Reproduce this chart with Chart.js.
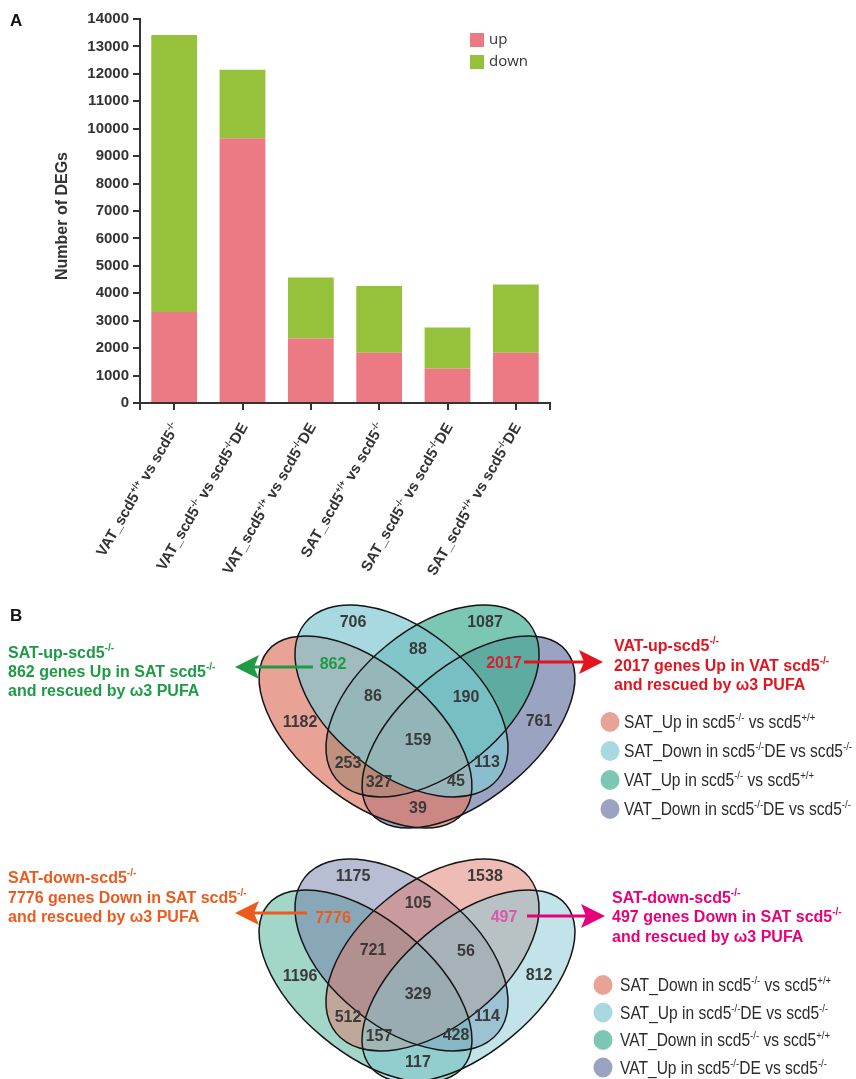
<!DOCTYPE html>
<html>
<head>
<meta charset="utf-8">
<script src="https://cdn.jsdelivr.net/npm/chart.js@4.4.1/dist/chart.umd.min.js"></script>
<style>
  body { margin: 0; background: #fff; width: 856px; height: 1079px; position: relative; overflow: hidden; }
  canvas { position: absolute; left: 0; }
</style>
</head>
<body>
<canvas id="degChart" width="856" height="590" style="top:0"></canvas>
<canvas id="vennUp" width="856" height="255" style="top:590px"></canvas>
<canvas id="vennDown" width="856" height="234" style="top:845px"></canvas>
<script>
"use strict";

// -----------------------------
// data: panel A (stacked bars)
// -----------------------------
const categories = [
  "VAT_scd5^{+/+} vs scd5^{-/-}",
  "VAT_scd5^{-/-} vs scd5^{-/-}DE",
  "VAT_scd5^{+/+} vs scd5^{-/-}DE",
  "SAT_scd5^{+/+} vs scd5^{-/-}",
  "SAT_scd5^{-/-} vs scd5^{-/-}DE",
  "SAT_scd5^{+/+} vs scd5^{-/-}DE",
];
const upCounts = [3320, 9650, 2350, 1830, 1260, 1830];
const downCounts = [10100, 2500, 2230, 2440, 1490, 2490];
const yMax = 14000;
const yStep = 1000;

// -----------------------------
// data: panel B (two 4-set venns)
// region order: A, B, C, D, AB, CD, BC, AC, BD, AD, ABC, BCD, ACD, ABD, ABCD
// -----------------------------
const vennUpSets = [
  "SAT_Up in scd5^{-/-} vs scd5^{+/+}",
  "SAT_Down in scd5^{-/-}DE vs scd5^{-/-}",
  "VAT_Up in scd5^{-/-} vs scd5^{+/+}",
  "VAT_Down in scd5^{-/-}DE vs scd5^{-/-}",
];
const vennUpCounts = [1182, 706, 1087, 761, 862, 2017, 88, 253, 113, 39, 86, 190, 327, 45, 159];

const vennDownSets = [
  "SAT_Down in scd5^{-/-} vs scd5^{+/+}",
  "SAT_Up in scd5^{-/-}DE vs scd5^{-/-}",
  "VAT_Down in scd5^{-/-} vs scd5^{+/+}",
  "VAT_Up in scd5^{-/-}DE vs scd5^{-/-}",
];
const vennDownCounts = [1196, 1175, 1538, 812, 7776, 497, 105, 512, 114, 117, 721, 56, 157, 428, 329];

// -----------------------------
// look & layout
// -----------------------------
const FONT = "'Liberation Sans', Arial, sans-serif";
const INK = "#333";
const upColor = "#ec7a84";
const downColor = "#95c13b";
const setBase = {
  salmon: [222, 122, 105],
  sky: [131, 199, 211],
  teal: [68, 174, 148],
  slate: [112, 124, 168],
};
const legendAlpha = 0.7;

// ellipse slots A..D in venn units (1 unit = 1 px), rotation in degrees
const slotShapes = [
  { cx: -51.5, cy: 32, a: 127, b: 66.6, rot: 39.8 },
  { cx: -15.5, cy: 1, a: 124, b: 72, rot: 38.9 },
  { cx: 15.5, cy: 1, a: 124, b: 72, rot: -38.9 },
  { cx: 51.5, cy: 32, a: 127, b: 66.6, rot: -39.8 },
];
const regionSpots = [
  [-117, 23], [-64, -77], [68, -77], [122, 22],
  [-84, -35], [87, -36], [1, -50], [-69, 64], [70, 63], [1, 109],
  [-44, -3], [49, -2], [-38, 83], [39, 82], [1, 41],
];

function rgba(c, a) {
  return `rgba(${c[0]},${c[1]},${c[2]},${a})`;
}

// "abc^{+/+} d" -> segments with superscripts
function parseRich(str) {
  const out = [];
  const re = /\^\{([^}]*)\}/g;
  let last = 0, m;
  while ((m = re.exec(str))) {
    if (m.index > last) out.push({ t: str.slice(last, m.index), sup: false });
    out.push({ t: m[1], sup: true });
    last = re.lastIndex;
  }
  if (last < str.length) out.push({ t: str.slice(last), sup: false });
  return out;
}

function drawRich(ctx, str, x, yMid, size, weight, align, squeeze) {
  const segs = parseRich(str);
  const sx = squeeze || 1;
  const fontFor = (s) => `${weight} ${s.sup ? Math.round(size * 0.62) : size}px ${FONT}`;
  let w = 0;
  segs.forEach((s) => {
    ctx.font = fontFor(s);
    s.w = ctx.measureText(s.t).width;
    w += s.w;
  });
  ctx.save();
  ctx.translate(x, yMid);
  ctx.scale(sx, 1);
  let cx = align === "right" ? -w : align === "center" ? -w / 2 : 0;
  const base = size * 0.36;
  ctx.textAlign = "left";
  ctx.textBaseline = "alphabetic";
  segs.forEach((s) => {
    ctx.font = fontFor(s);
    ctx.fillText(s.t, cx, base - (s.sup ? size * 0.4 : 0));
    cx += s.w;
  });
  ctx.restore();
}

// -----------------------------
// panel A
// -----------------------------
const degDecor = {
  id: "degDecor",
  afterDraw(chart) {
    const ctx = chart.ctx;
    const xs = chart.scales.x;
    const area = chart.chartArea;
    ctx.save();
    ctx.fillStyle = "#111";
    ctx.font = `bold 17px ${FONT}`;
    ctx.textAlign = "left";
    ctx.textBaseline = "alphabetic";
    ctx.fillText("A", 10, 26);

    // y title
    ctx.fillStyle = INK;
    ctx.translate(63, 216);
    ctx.rotate(-Math.PI / 2);
    ctx.font = `bold 16px ${FONT}`;
    ctx.textAlign = "center";
    ctx.textBaseline = "middle";
    ctx.fillText("Number of DEGs", 0, 0);
    ctx.restore();

    // axis end ticks
    ctx.save();
    ctx.strokeStyle = INK;
    ctx.lineWidth = 2;
    [area.left, area.right].forEach((x) => {
      ctx.beginPath();
      ctx.moveTo(x, area.bottom);
      ctx.lineTo(x, area.bottom + 7);
      ctx.stroke();
    });
    ctx.restore();

    // rotated category labels
    ctx.save();
    ctx.fillStyle = INK;
    chart.data.labels.forEach((lab, i) => {
      const px = xs.getPixelForTick(i);
      ctx.save();
      ctx.translate(px + 1, area.bottom + 21);
      ctx.rotate(-Math.PI / 3);
      drawRich(ctx, lab, 0, 0, 15, "bold", "right");
      ctx.restore();
    });
    ctx.restore();

    // legend inside plot
    ctx.save();
    chart.data.datasets.forEach((ds, i) => {
      const y = 33 + i * 22;
      ctx.fillStyle = ds.backgroundColor;
      ctx.fillRect(470, y, 14, 14);
      ctx.fillStyle = INK;
      ctx.font = `15px 'Open Sans', ${FONT}`;
      ctx.textAlign = "left";
      ctx.textBaseline = "middle";
      ctx.fillText(ds.label, 489, y + 7);
    });
    ctx.restore();
  },
};

const axisLine = { display: true, color: INK, width: 2 };
const axisGrid = {
  display: true,
  drawOnChartArea: false,
  drawTicks: true,
  tickLength: 7,
  color: INK,
  lineWidth: 2,
};

new Chart(document.getElementById("degChart"), {
  type: "bar",
  data: {
    labels: categories,
    datasets: [
      { label: "up", data: upCounts, backgroundColor: upColor },
      { label: "down", data: downCounts, backgroundColor: downColor },
    ],
  },
  options: {
    responsive: false,
    animation: false,
    events: [],
    layout: { padding: { top: 19, right: 306, left: 0, bottom: 0 } },
    datasets: { bar: { categoryPercentage: 1, barPercentage: 0.67 } },
    plugins: { legend: { display: false }, tooltip: { enabled: false } },
    scales: {
      x: {
        stacked: true,
        offset: true,
        grid: { ...axisGrid, offset: false },
        border: axisLine,
        ticks: { display: false },
        afterFit: (s) => { s.height = 187; },
      },
      y: {
        stacked: true,
        min: 0,
        max: yMax,
        grid: axisGrid,
        border: axisLine,
        ticks: {
          stepSize: yStep,
          color: INK,
          padding: 4,
          font: { family: FONT, size: 15, weight: "bold" },
          callback: (v) => String(v),
        },
        afterFit: (s) => { s.width = 140; },
      },
    },
  },
  plugins: [degDecor],
});

// -----------------------------
// panel B
// -----------------------------
function drawArrow(ctx, x0, tip, y, color) {
  const dir = Math.sign(tip - x0);
  ctx.save();
  ctx.strokeStyle = color;
  ctx.fillStyle = color;
  ctx.lineWidth = 3;
  ctx.beginPath();
  ctx.moveTo(x0, y);
  ctx.lineTo(tip - dir * 18, y);
  ctx.stroke();
  ctx.beginPath();
  ctx.moveTo(tip, y);
  ctx.lineTo(tip - dir * 24, y - 12);
  ctx.lineTo(tip - dir * 19, y);
  ctx.lineTo(tip - dir * 24, y + 12);
  ctx.closePath();
  ctx.fill();
  ctx.restore();
}

function vennPlugin(cfg) {
  return {
    id: "venn_" + cfg.id,
    beforeDatasetsDraw(chart) {
      const ctx = chart.ctx;
      const xs = chart.scales.x, ys = chart.scales.y;
      const kx = Math.abs(xs.getPixelForValue(100) - xs.getPixelForValue(0)) / 100;
      const ky = Math.abs(ys.getPixelForValue(100) - ys.getPixelForValue(0)) / 100;
      const path = (s) => {
        ctx.beginPath();
        ctx.ellipse(xs.getPixelForValue(s.cx), ys.getPixelForValue(s.cy), s.a * kx, s.b * ky,
          (s.rot * Math.PI) / 180, 0, Math.PI * 2);
      };
      ctx.save();
      cfg.drawOrder.forEach((slot) => {
        path(slotShapes[slot]);
        ctx.fillStyle = rgba(cfg.colors[slot], cfg.alpha);
        ctx.fill();
      });
      ctx.strokeStyle = "#151515";
      ctx.lineWidth = 1.5;
      slotShapes.forEach((s) => { path(s); ctx.stroke(); });
      ctx.restore();
    },
    afterDatasetsDraw(chart) {
      const ctx = chart.ctx;
      const meta = chart.getDatasetMeta(0);
      const pts = chart.data.datasets[0].data;
      ctx.save();
      ctx.font = `bold 16px ${FONT}`;
      ctx.textAlign = "center";
      ctx.textBaseline = "middle";
      meta.data.forEach((el, i) => {
        ctx.fillStyle = cfg.numberColors[i] || "#3a3a3a";
        ctx.fillText(String(pts[i].n), el.x, el.y);
      });
      ctx.restore();

      // callouts
      cfg.callouts.forEach((c) => {
        drawArrow(ctx, c.from, c.tip, c.y, c.color);
        ctx.save();
        ctx.fillStyle = c.color;
        c.lines.forEach((ln, k) => drawRich(ctx, ln, c.x, c.ys[k], 16, "bold", "left"));
        ctx.restore();
      });

      // legend
      ctx.save();
      cfg.sets.forEach((name, k) => {
        const slot = cfg.slotOfSet[k];
        const y = cfg.legend.y0 + k * cfg.legend.dy;
        ctx.fillStyle = rgba(cfg.colors[slot], legendAlpha);
        ctx.beginPath();
        ctx.ellipse(cfg.legend.cx, y, 9.5, 10, 0, 0, Math.PI * 2);
        ctx.fill();
        ctx.fillStyle = "#2b2b2b";
        drawRich(ctx, name, cfg.legend.tx, y, 18, "normal", "left", 0.865);
      });
      ctx.restore();

      if (cfg.panel) {
        ctx.save();
        ctx.fillStyle = "#111";
        ctx.font = `bold 17px ${FONT}`;
        ctx.textAlign = "left";
        ctx.textBaseline = "middle";
        ctx.fillText(cfg.panel, 10, cfg.panelY);
        ctx.restore();
      }
    },
  };
}

function makeVenn(canvasId, cfg) {
  return new Chart(document.getElementById(canvasId), {
    type: "scatter",
    data: {
      datasets: [
        {
          data: cfg.counts.map((n, i) => ({ x: regionSpots[i][0], y: regionSpots[i][1], n })),
          pointRadius: 0,
          pointHoverRadius: 0,
        },
      ],
    },
    options: {
      responsive: false,
      animation: false,
      events: [],
      layout: { padding: 0 },
      plugins: { legend: { display: false }, tooltip: { enabled: false } },
      scales: {
        x: { type: "linear", display: false, min: -417, max: 439 },
        y: { type: "linear", display: false, reverse: true, min: cfg.yMin, max: cfg.yMax },
      },
    },
    plugins: [vennPlugin(cfg)],
  });
}

const green = "#1f9a45", red = "#e3141e", orange = "#ec5a1e", magenta = "#e6007a";

makeVenn("vennUp", {
  id: "up",
  counts: vennUpCounts,
  sets: vennUpSets,
  slotOfSet: [0, 1, 2, 3],
  colors: [setBase.salmon, setBase.sky, setBase.teal, setBase.slate],
  drawOrder: [3, 2, 0, 1],
  alpha: 0.7,
  yMin: -110,
  yMax: 145,
  numberColors: { 4: green, 5: "#d8202e" },
  callouts: [
    {
      color: green, from: 313, tip: 235, y: 77, x: 8, ys: [62, 81, 100],
      lines: ["SAT-up-scd5^{-/-}", `${vennUpCounts[4]} genes Up in SAT scd5^{-/-}`, "and rescued by ω3 PUFA"],
    },
    {
      color: red, from: 524, tip: 603, y: 72, x: 614, ys: [55, 75, 94],
      lines: ["VAT-up-scd5^{-/-}", `${vennUpCounts[5]} genes Up in VAT scd5^{-/-}`, "and rescued by ω3 PUFA"],
    },
  ],
  legend: { cx: 610, tx: 624, y0: 132, dy: 29 },
  panel: "B",
  panelY: 26,
});

makeVenn("vennDown", {
  id: "down",
  counts: vennDownCounts,
  sets: vennDownSets,
  slotOfSet: [2, 3, 0, 1],
  colors: [setBase.teal, setBase.slate, setBase.salmon, setBase.sky],
  drawOrder: [0, 1, 2, 3],
  alpha: 0.5,
  yMin: -109,
  yMax: 125,
  numberColors: { 4: orange, 5: "#d85aa8" },
  callouts: [
    {
      color: orange, from: 307, tip: 235, y: 68, x: 8, ys: [32, 52, 71],
      lines: ["SAT-down-scd5^{-/-}", `${vennDownCounts[4]} genes Down in SAT scd5^{-/-}`, "and rescued by ω3 PUFA"],
    },
    {
      color: magenta, from: 527, tip: 605, y: 71, x: 612, ys: [52, 71, 91],
      lines: ["SAT-down-scd5^{-/-}", `${vennDownCounts[5]} genes Down in SAT scd5^{-/-}`, "and rescued by ω3 PUFA"],
    },
  ],
  legend: { cx: 603, tx: 620, y0: 140, dy: 27.5 },
});
</script>
</body>
</html>
